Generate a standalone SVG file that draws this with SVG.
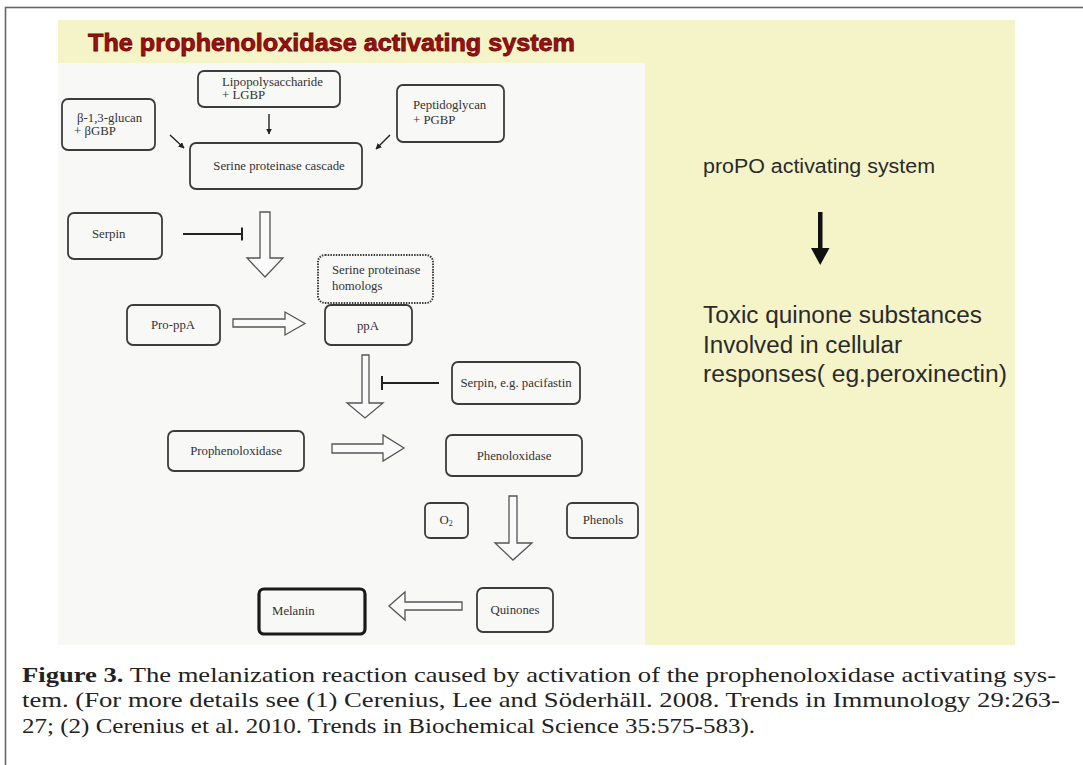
<svg xmlns="http://www.w3.org/2000/svg" width="1083" height="765" viewBox="0 0 1083 765">
<defs>
<style>
.node{fill:none;stroke:#3c3c3c;stroke-width:1.8}
.dot{fill:none;stroke:#3c3c3c;stroke-width:2;stroke-dasharray:1.5 1.2}
.t{font-family:"Liberation Serif","Times New Roman",serif;font-size:12.8px;fill:#333}
.blk{fill:#fafafa;stroke:#555;stroke-width:1.3;stroke-linejoin:miter}
.inh{stroke:#222;stroke-width:2;fill:none}
.thin{stroke:#222;stroke-width:1.4;fill:none}
.rt{font-family:"Liberation Sans",Arial,sans-serif;fill:#2a2a2a}
.cap{font-family:"Liberation Serif","Times New Roman",serif;font-size:22px;fill:#222}
</style>
<marker id="ah" viewBox="0 0 10 10" refX="9" refY="5" markerWidth="6" markerHeight="6" orient="auto" markerUnits="userSpaceOnUse">
<path d="M0,0 L10,5 L0,10 Z" fill="#222"/>
</marker>
</defs>
<rect x="0" y="0" width="1083" height="765" fill="#ffffff"/>
<rect x="5.5" y="7.5" width="1100" height="800" fill="none" stroke="#666" stroke-width="1.6"/>
<rect x="58" y="20" width="957" height="625" fill="#f4f4c8"/>
<rect x="58" y="63" width="587" height="582" fill="#f8f8f7"/>
<text x="88" y="51" font-family="Liberation Sans,Arial,sans-serif" font-weight="bold" font-size="24" fill="#a0100f" stroke="#6a0505" stroke-width="0.8" textLength="487" lengthAdjust="spacingAndGlyphs">The prophenoloxidase activating system</text>

<g id="connectors">
<line class="thin" x1="269" y1="114" x2="269" y2="134" marker-end="url(#ah)"/>
<line class="thin" x1="170" y1="135" x2="184" y2="148" marker-end="url(#ah)"/>
<line class="thin" x1="390" y1="135" x2="376" y2="149" marker-end="url(#ah)"/>
<path class="blk" d="M260,212 H270 V258 H283 L265,277 L247,258 H260 Z"/>
<path class="blk" d="M233,319 H285 V312 L305,323.5 L285,335 V327 H233 Z"/>
<path class="blk" d="M362,355 H369 V403 H383 L365,418 L347,403 H362 Z"/>
<path class="blk" d="M332,444 H383 V435 L404,448 L383,461 V453 H332 Z"/>
<path class="blk" d="M509,496 H517 V543 H532 L513,560 L495,543 H509 Z"/>
<path class="blk" d="M462,602 H405 V592 L389,606 L405,620 V610 H462 Z"/>
<path class="inh" d="M183,234 H242 M242,227.5 V240.5"/>
<path class="inh" d="M439,383 H382 M382,376 V390"/>
<rect x="818" y="212" width="4.5" height="38" fill="#111"/>
<path d="M811,248 L829.5,248 L820.2,265 Z" fill="#111"/>
</g>

<g id="lps"><rect class="node" x="198" y="71" width="142" height="36" rx="6"/><text class="t" x="222" y="86">Lipopolysaccharide</text><text class="t" x="222" y="99">+ LGBP</text></g>
<g id="bglucan"><rect class="node" x="62" y="99" width="93" height="51" rx="6"/><text class="t" x="77" y="122">β-1,3-glucan</text><text class="t" x="74" y="135">+ βGBP</text></g>
<g id="peptido"><rect class="node" x="397" y="85" width="107" height="57" rx="6"/><text class="t" x="413" y="109">Peptidoglycan</text><text class="t" x="413" y="124">+ PGBP</text></g>
<g id="cascade"><rect class="node" x="190" y="143" width="172" height="46" rx="6"/><text class="t" x="279" y="170" text-anchor="middle">Serine proteinase cascade</text></g>
<g id="serpin"><rect class="node" x="68" y="213" width="94" height="46" rx="6"/><text class="t" x="92" y="238">Serpin</text></g>
<g id="sph"><rect class="dot" x="318" y="255" width="115" height="48" rx="7"/><text class="t" x="332" y="274">Serine proteinase</text><text class="t" x="332" y="290">homologs</text></g>
<g id="proppa"><rect class="node" x="127" y="305" width="93" height="40" rx="6"/><text class="t" x="173" y="329" text-anchor="middle">Pro-ppA</text></g>
<g id="ppa"><rect class="node" x="325" y="305" width="87" height="40" rx="6"/><text class="t" x="368" y="330" text-anchor="middle">ppA</text></g>
<g id="pacifastin"><rect class="node" x="452" y="362" width="128" height="42" rx="6"/><text class="t" x="516" y="387" text-anchor="middle">Serpin, e.g. pacifastin</text></g>
<g id="propo"><rect class="node" x="168" y="431" width="136" height="40" rx="6"/><text class="t" x="236" y="455" text-anchor="middle">Prophenoloxidase</text></g>
<g id="po"><rect class="node" x="446" y="435" width="136" height="41" rx="6"/><text class="t" x="514" y="460" text-anchor="middle">Phenoloxidase</text></g>
<g id="o2"><rect class="node" x="425" y="503" width="43" height="35" rx="5"/><text class="t" x="446" y="524" text-anchor="middle">O<tspan font-size="8" dy="2">2</tspan></text></g>
<g id="phenols"><rect class="node" x="567" y="503" width="71" height="35" rx="5"/><text class="t" x="603" y="524" text-anchor="middle">Phenols</text></g>
<g id="quinones"><rect class="node" x="477" y="588" width="76" height="44" rx="6"/><text class="t" x="515" y="614" text-anchor="middle">Quinones</text></g>
<g id="melanin"><rect x="259" y="589" width="106" height="45" rx="5" fill="none" stroke="#1a1a1a" stroke-width="3.2"/><text class="t" x="272" y="615" fill="#111">Melanin</text></g>

<g id="right-panel">
<text class="rt" x="703" y="173" font-size="20" textLength="232" lengthAdjust="spacingAndGlyphs">proPO activating system</text>
<text class="rt" x="703" y="323" font-size="23" textLength="279" lengthAdjust="spacingAndGlyphs">Toxic quinone substances</text>
<text class="rt" x="703" y="353" font-size="23" textLength="199" lengthAdjust="spacingAndGlyphs">Involved in cellular</text>
<text class="rt" x="703" y="382" font-size="23" textLength="304" lengthAdjust="spacingAndGlyphs">responses( eg.peroxinectin)</text>
</g>

<g id="caption">
<text class="cap" x="22" y="682" textLength="1034" lengthAdjust="spacingAndGlyphs"><tspan font-weight="bold">Figure 3.</tspan> The melanization reaction caused by activation of the prophenoloxidase activating sys-</text>
<text class="cap" x="22" y="707" textLength="1038" lengthAdjust="spacingAndGlyphs">tem. (For more details see (1) Cerenius, Lee and Söderhäll. 2008. Trends in Immunology 29:263-</text>
<text class="cap" x="22" y="733" textLength="733" lengthAdjust="spacingAndGlyphs">27; (2) Cerenius et al. 2010. Trends in Biochemical Science 35:575-583).</text>
</g>
</svg>
